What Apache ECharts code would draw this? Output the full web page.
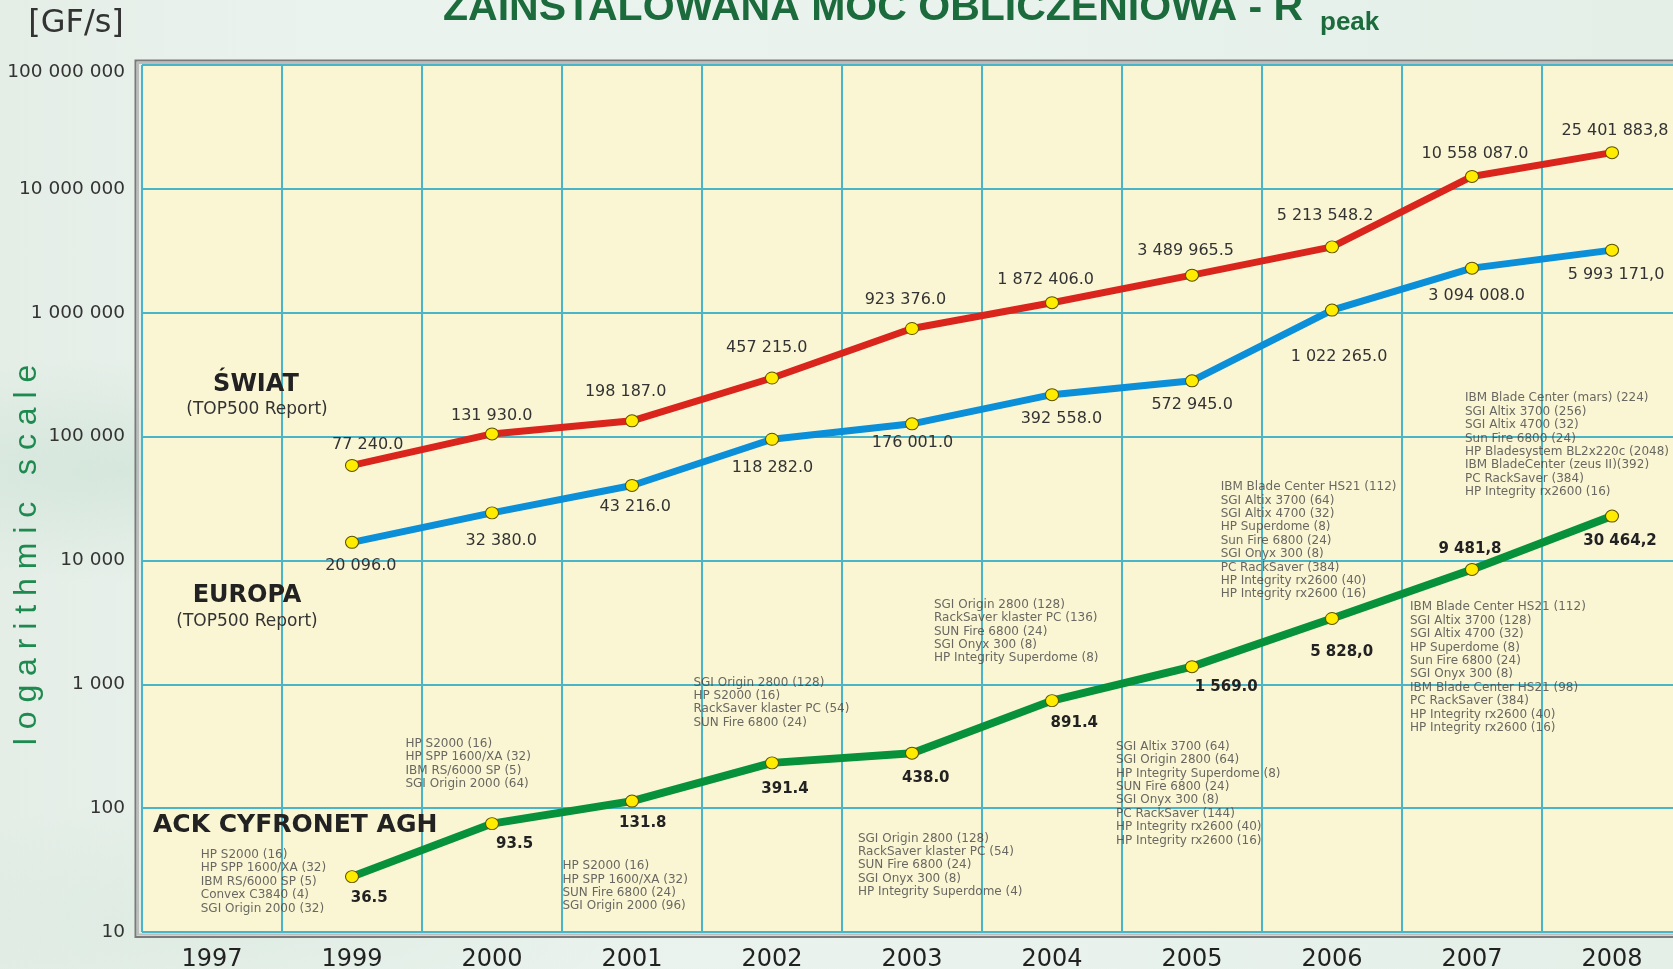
<!DOCTYPE html>
<html>
<head>
<meta charset="utf-8">
<script src="https://cdn.jsdelivr.net/npm/echarts@6/dist/echarts.min.js"></script>
<style>
html,body{margin:0;padding:0;}
#c{width:1673px;height:969px;
background:
 radial-gradient(ellipse 500px 160px at 120px 470px, rgba(175,210,190,0.30), rgba(255,255,255,0) 70%),
 radial-gradient(ellipse 600px 180px at 250px 920px, rgba(190,218,200,0.25), rgba(255,255,255,0) 70%),
 linear-gradient(90deg,#e4eee7 0%,#ebf3ee 20%,#e9f2ed 60%,#e4efe8 100%);}
</style>
</head>
<body>
<div id="c"></div>
<script>
// ---------- data ----------
const years = ['1997','1999','2000','2001','2002','2003','2004','2005','2006','2007','2008'];

// plotted positions, 1999..2008
const worldValues  = [58500, 105000, 134000, 297000, 746000, 1205000, 2010000, 3400000, 12600000, 19600000];
const europeValues = [14000, 24200, 40300, 95100, 126700, 218000, 282000, 1050000, 2290000, 3200000];
const aghValues    = [28, 75, 114, 232, 278, 738, 1388, 3400, 8460, 22800];

// printed value labels
const worldLabels  = ['77 240.0','131 930.0','198 187.0','457 215.0','923 376.0','1 872 406.0','3 489 965.5','5 213 548.2','10 558 087.0','25 401 883,8'];
const europeLabels = ['20 096.0','32 380.0','43 216.0','118 282.0','176 001.0','392 558.0','572 945.0','1 022 265.0','3 094 008.0','5 993 171,0'];
const aghLabels    = ['36.5','93.5','131.8','391.4','438.0','891.4','1 569.0','5 828,0','9 481,8','30 464,2'];

// installed systems at ACK CYFRONET AGH, 1999..2008
const aghSystems = [
  ['HP S2000 (16)','HP SPP 1600/XA (32)','IBM RS/6000 SP (5)','Convex C3840 (4)','SGI Origin 2000 (32)'],
  ['HP S2000 (16)','HP SPP 1600/XA (32)','IBM RS/6000 SP (5)','SGI Origin 2000 (64)'],
  ['HP S2000 (16)','HP SPP 1600/XA (32)','SUN Fire 6800 (24)','SGI Origin 2000 (96)'],
  ['SGI Origin 2800 (128)','HP S2000 (16)','RackSaver klaster PC (54)','SUN Fire 6800 (24)'],
  ['SGI Origin 2800 (128)','RackSaver klaster PC (54)','SUN Fire 6800 (24)','SGI Onyx 300 (8)','HP Integrity Superdome (4)'],
  ['SGI Origin 2800 (128)','RackSaver klaster PC (136)','SUN Fire 6800 (24)','SGI Onyx 300 (8)','HP Integrity Superdome (8)'],
  ['SGI Altix 3700 (64)','SGI Origin 2800 (64)','HP Integrity Superdome (8)','SUN Fire 6800 (24)','SGI Onyx 300 (8)','PC RackSaver (144)','HP Integrity rx2600 (40)','HP Integrity rx2600 (16)'],
  ['IBM Blade Center HS21 (112)','SGI Altix 3700 (64)','SGI Altix 4700 (32)','HP Superdome (8)','Sun Fire 6800 (24)','SGI Onyx 300 (8)','PC RackSaver (384)','HP Integrity rx2600 (40)','HP Integrity rx2600 (16)'],
  ['IBM Blade Center HS21 (112)','SGI Altix 3700 (128)','SGI Altix 4700 (32)','HP Superdome (8)','Sun Fire 6800 (24)','SGI Onyx 300 (8)','IBM Blade Center HS21 (98)','PC RackSaver (384)','HP Integrity rx2600 (40)','HP Integrity rx2600 (16)'],
  ['IBM Blade Center (mars) (224)','SGI Altix 3700 (256)','SGI Altix 4700 (32)','Sun Fire 6800 (24)','HP Bladesystem BL2x220c (2048)','IBM BladeCenter (zeus II)(392)','PC RackSaver (384)','HP Integrity rx2600 (16)']
];

const yTickLabels = ['10','100','1 000','10 000','100 000','1 000 000','10 000 000','100 000 000'];

// ---------- layout (label offsets in px relative to each point) ----------
const worldLabelOffset  = [[15.7,-20.3],[-0.3,-18.3],[-6.4,-28.6],[-5.2,-30.4],[-6.6,-28.3],[-6.3,-22.7],[-6.3,-24.6],[-7,-30.7],[3,-22.7],[3,-22.3]];
const europeLabelOffset = [[8.8,23.3],[9.2,27.7],[3.2,21.7],[0.5,29],[0.5,18.7],[9.4,24],[0.1,23.7],[7,46.7],[4.7,27.7],[4,24.7]];
const aghLabelOffset    = [[17.2,21],[22.6,20],[10.8,21.6],[13,26],[13.8,24.6],[22.3,22.3],[34.2,20],[9.7,33.7],[-2,-20.7],[8,25]];
const systemsOffset     = [[-151.2,-28.4],[-86.5,-86.4],[-69.5,58.3],[-78.5,-87],[-54,78.6],[-118,-102.7],[-76,73.3],[-111.3,-138],[-62,31.3],[-147,-124.4]];

const DV = '"DejaVu Sans", Verdana, sans-serif';
const GRID = '#48b5c8';

function lineData(values, labels, offsets) {
  return ['-'].concat(values.map((v, i) => ({
    value: v,
    label: { offset: offsets[i], formatter: labels[i] }
  })));
}
function systemsData() {
  return ['-'].concat(aghValues.map((v, i) => ({
    value: v,
    label: { position: systemsOffset[i], formatter: aghSystems[i].join('\n') }
  })));
}

const markerStyle = { color: '#ffec00', borderColor: '#5b5200', borderWidth: 1 };

function lineSeries(name, color, width, data, labelStyle) {
  return {
    name: name, type: 'line', data: data,
    symbol: 'circle', symbolSize: [13, 12],
    itemStyle: markerStyle,
    lineStyle: { color: color, width: width, cap: 'round', join: 'round' },
    label: Object.assign({ show: true, position: 'inside', align: 'center', verticalAlign: 'middle' }, labelStyle),
    z: 3
  };
}

const chart = echarts.init(document.getElementById('c'), null, { renderer: 'canvas' });
chart.setOption({
  animation: false,
  backgroundColor: 'transparent',
  grid: { left: 142, right: -9, top: 65, bottom: 37, show: true, backgroundColor: '#faf6d4', borderWidth: 0, containLabel: false, outerBoundsMode: 'none' },
  xAxis: {
    type: 'category', data: years, boundaryGap: true,
    axisLine: { show: false }, axisTick: { show: false },
    axisLabel: { fontSize: 24, fontFamily: DV, color: '#222', margin: 16, interval: 0 },
    splitLine: { show: true, interval: 0, lineStyle: { color: GRID, width: 2 } }
  },
  yAxis: {
    type: 'log', logBase: 10, min: 10, max: 100000000,
    axisLine: { show: false }, axisTick: { show: false },
    axisLabel: {
      fontSize: 18.5, fontFamily: DV, color: '#333', margin: 17,
      formatter: v => {
        const i = Math.round(Math.log10(v)) - 1;
        return i === yTickLabels.length - 1 ? '{top|' + yTickLabels[i] + '}' : yTickLabels[i];
      },
      rich: { top: { fontSize: 18.5, fontFamily: DV, color: '#333', padding: [14, 0, 0, 0] } }
    },
    splitLine: { show: true, lineStyle: { color: GRID, width: 2 } }
  },
  series: [
    {
      name: 'systems', type: 'scatter', data: systemsData(), symbol: 'circle', symbolSize: 0.1,
      itemStyle: { color: 'rgba(0,0,0,0)' }, silent: true, z: 1,
      label: { show: true, align: 'left', verticalAlign: 'top', fontSize: 12, lineHeight: 13.4, fontFamily: DV, color: '#444' }
    },
    lineSeries('ŚWIAT', '#da251d', 7, lineData(worldValues, worldLabels, worldLabelOffset), { fontSize: 16, fontFamily: DV, color: '#333' }),
    lineSeries('EUROPA', '#0b8fd8', 7, lineData(europeValues, europeLabels, europeLabelOffset), { fontSize: 16, fontFamily: DV, color: '#333' }),
    lineSeries('ACK CYFRONET AGH', '#07913b', 8, lineData(aghValues, aghLabels, aghLabelOffset), { fontSize: 15, fontWeight: 'bold', fontFamily: DV, color: '#222' })
  ],
  graphic: [
    { type: 'rect', silent: true, z: 10, shape: { x: 135.5, y: 60.5, width: 1700, height: 876.5 }, style: { fill: 'none', stroke: '#7a7a7a', lineWidth: 2 } },
    { type: 'rect', silent: true, z: 10, shape: { x: 138, y: 63, width: 1700, height: 871.5 }, style: { fill: 'none', stroke: '#bdbdbd', lineWidth: 2 } },
    { type: 'text', silent: true, z: 10, x: 443, y: 9, style: { text: 'ZAINSTALOWANA MOC OBLICZENIOWA - R', align: 'left', verticalAlign: 'middle', font: 'bold 41px "Liberation Sans", Arial, sans-serif', fill: '#1c6b3c', shadowColor: 'rgba(0,0,0,0.35)', shadowBlur: 2, shadowOffsetX: 1, shadowOffsetY: 1 } },
    { type: 'text', silent: true, z: 10, x: 1320, y: 23, style: { text: 'peak', align: 'left', verticalAlign: 'middle', font: 'bold 26px "Liberation Sans", Arial, sans-serif', fill: '#1c6b3c', shadowColor: 'rgba(0,0,0,0.35)', shadowBlur: 2, shadowOffsetX: 1, shadowOffsetY: 1 } },
    { type: 'text', silent: true, z: 10, x: 76, y: 24, style: { text: '[GF/s]', align: 'center', verticalAlign: 'middle', font: '32px ' + DV, fill: '#333' } },
    { type: 'text', silent: true, z: 10, x: 27, y: 555, rotation: Math.PI / 2, style: { text: 'l o g a r i t h m i c   s c a l e', align: 'center', verticalAlign: 'middle', font: '32px "Liberation Sans", Arial, sans-serif', fill: '#1f8a4f' } },
    { type: 'text', silent: true, z: 10, x: 256, y: 385, style: { text: 'ŚWIAT', align: 'center', verticalAlign: 'middle', font: 'bold 24px ' + DV, fill: '#222' } },
    { type: 'text', silent: true, z: 10, x: 257, y: 410, style: { text: '(TOP500 Report)', align: 'center', verticalAlign: 'middle', font: '17px ' + DV, fill: '#333' } },
    { type: 'text', silent: true, z: 10, x: 247, y: 596, style: { text: 'EUROPA', align: 'center', verticalAlign: 'middle', font: 'bold 24px ' + DV, fill: '#222' } },
    { type: 'text', silent: true, z: 10, x: 247, y: 622, style: { text: '(TOP500 Report)', align: 'center', verticalAlign: 'middle', font: '17px ' + DV, fill: '#333' } },
    { type: 'text', silent: true, z: 10, x: 153, y: 825, style: { text: 'ACK CYFRONET AGH', align: 'left', verticalAlign: 'middle', font: 'bold 25px ' + DV, fill: '#222' } }
  ]
});
</script>
</body>
</html>
